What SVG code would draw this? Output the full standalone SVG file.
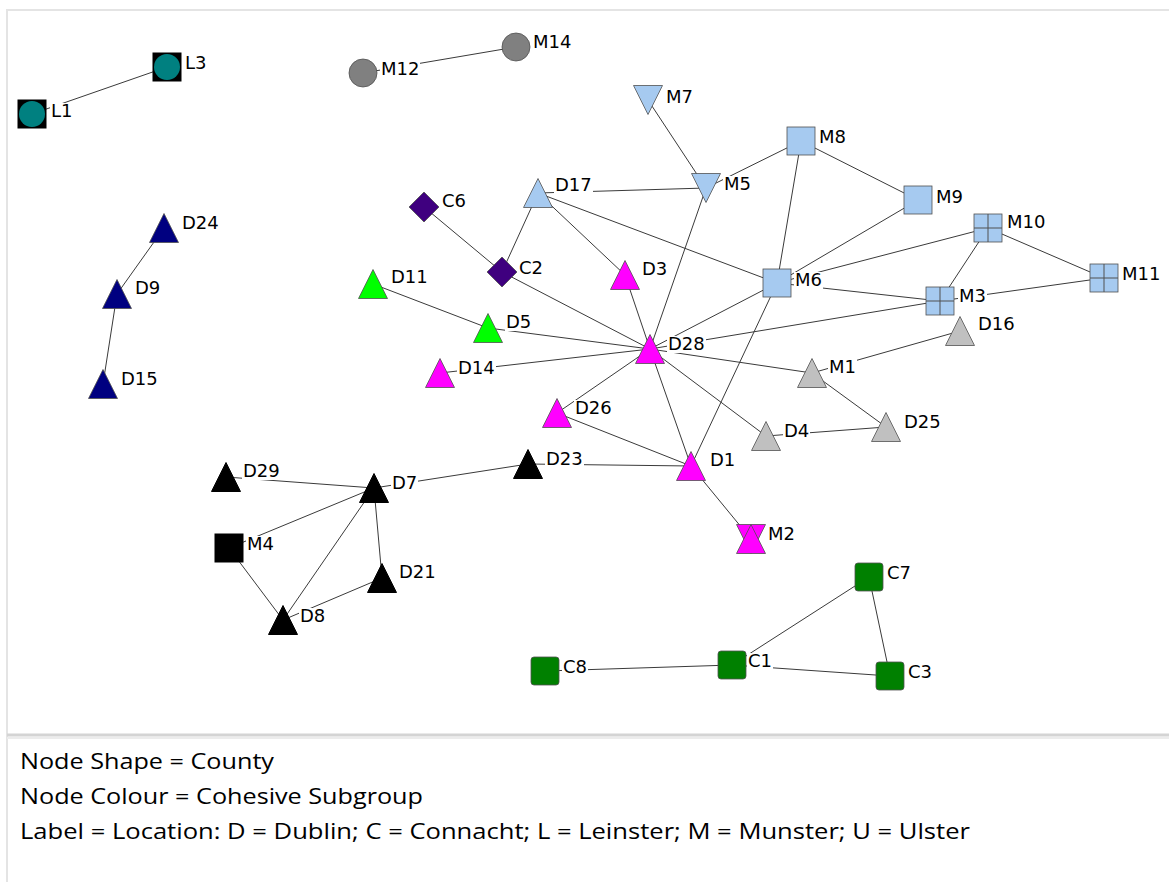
<svg xmlns="http://www.w3.org/2000/svg" xmlns:xlink="http://www.w3.org/1999/xlink" width="1169" height="882" viewBox="0 0 1169 882">
<style>
.e{stroke:#3a3a3a;stroke-width:1;fill:none}
.n{stroke:#505050;stroke-width:0.8}
.k{fill:#000;stroke:#000}
.lb{fill:#a6caf0}.mg{fill:#ff00ff}.gr{fill:#00ff00}.gy{fill:#c0c0c0}.nv{fill:#000080}.pu{fill:#3f007f}.dg{fill:#008000}.tl{fill:#008080}.dgy{fill:#808080}
.bg{fill:#fff}
text.t{font-family:"DejaVu Sans",Verdana,sans-serif;font-size:18px;fill:#000}
text.lg{font-family:"Open Sans","Liberation Sans",sans-serif;font-size:21px;fill:#000}
</style>
<defs>
<path id="tri" d="M0,-14.5L14.5,14.5L-14.5,14.5Z"/>
<path id="itri" d="M-14.5,-14.5L14.5,-14.5L0,14.5Z"/>
<rect id="sq" x="-14" y="-14" width="28" height="28"/>
<rect id="rsq" x="-14" y="-14" width="28" height="28" rx="3"/>
<path id="dia" d="M0,-15L15,0L0,15L-15,0Z"/>
<circle id="cir" r="14"/>
</defs>
<rect width="1169" height="882" fill="#fff"/>
<g id="frame">
<path d="M7,882V10H1169" stroke="#e4e4e4" stroke-width="2" fill="none"/>
<path d="M7,735H1169" stroke="#d4d4d4" stroke-width="3" fill="none"/>
<path d="M7,738H1169" stroke="#ececec" stroke-width="2" fill="none"/>
</g>
<g id="edges" class="e">
<line x1="32" y1="114" x2="167" y2="67"/>
<line x1="363" y1="73" x2="516" y2="47"/>
<line x1="648" y1="100" x2="706" y2="188"/>
<line x1="706" y1="188" x2="801" y2="141"/>
<line x1="706" y1="188" x2="538" y2="193"/>
<line x1="706" y1="188" x2="650" y2="349"/>
<line x1="801" y1="141" x2="777" y2="283"/>
<line x1="801" y1="141" x2="918" y2="200"/>
<line x1="918" y1="200" x2="777" y2="283"/>
<line x1="777" y1="283" x2="988" y2="228"/>
<line x1="777" y1="283" x2="940" y2="301"/>
<line x1="777" y1="283" x2="538" y2="193"/>
<line x1="777" y1="283" x2="650" y2="349"/>
<line x1="777" y1="283" x2="691" y2="466"/>
<line x1="988" y1="228" x2="940" y2="301"/>
<line x1="988" y1="228" x2="1104" y2="278"/>
<line x1="940" y1="301" x2="1104" y2="278"/>
<line x1="940" y1="301" x2="650" y2="349"/>
<line x1="538" y1="193" x2="502" y2="272"/>
<line x1="538" y1="193" x2="625" y2="275"/>
<line x1="424" y1="207" x2="502" y2="272"/>
<line x1="502" y1="272" x2="650" y2="349"/>
<line x1="625" y1="275" x2="650" y2="349"/>
<line x1="373" y1="284" x2="488" y2="328"/>
<line x1="488" y1="328" x2="650" y2="349"/>
<line x1="440" y1="373" x2="650" y2="349"/>
<line x1="557" y1="413" x2="650" y2="349"/>
<line x1="557" y1="413" x2="691" y2="466"/>
<line x1="650" y1="349" x2="691" y2="466"/>
<line x1="650" y1="349" x2="812" y2="373"/>
<line x1="650" y1="349" x2="766" y2="436"/>
<line x1="812" y1="373" x2="960" y2="331"/>
<line x1="812" y1="373" x2="886" y2="427"/>
<line x1="766" y1="436" x2="886" y2="427"/>
<line x1="691" y1="466" x2="751" y2="539"/>
<line x1="691" y1="466" x2="528" y2="464"/>
<line x1="528" y1="464" x2="374" y2="488"/>
<line x1="374" y1="488" x2="226" y2="477"/>
<line x1="374" y1="488" x2="229" y2="548"/>
<line x1="374" y1="488" x2="283" y2="620"/>
<line x1="374" y1="488" x2="382" y2="578"/>
<line x1="382" y1="578" x2="283" y2="620"/>
<line x1="229" y1="548" x2="283" y2="620"/>
<line x1="164" y1="228" x2="117" y2="294"/>
<line x1="117" y1="294" x2="103" y2="384"/>
<line x1="869" y1="577" x2="732" y2="665"/>
<line x1="869" y1="577" x2="890" y2="676"/>
<line x1="732" y1="665" x2="545" y2="671"/>
<line x1="732" y1="665" x2="890" y2="676"/>
</g>
<g id="L1"><use href="#sq" x="32" y="114" class="k"/><circle cx="32" cy="114" r="13" class="tl"/><rect class="bg" x="50" y="103" width="23" height="17"/><text class="t" x="51" y="117">L1</text></g>
<g id="L3"><use href="#sq" x="167" y="67" class="k"/><circle cx="167" cy="67" r="13" class="tl"/><rect class="bg" x="184" y="55" width="24" height="17"/><text class="t" x="185" y="69">L3</text></g>
<g id="M12"><use href="#cir" x="363" y="73" class="n dgy"/><rect class="bg" x="380" y="61" width="40" height="17"/><text class="t" x="381" y="75">M12</text></g>
<g id="M14"><use href="#cir" x="516" y="47" class="n dgy"/><rect class="bg" x="532" y="34" width="40" height="17"/><text class="t" x="533" y="48">M14</text></g>
<g id="M7"><use href="#itri" x="648" y="100" class="n lb"/><rect class="bg" x="665" y="89" width="29" height="17"/><text class="t" x="666" y="103">M7</text></g>
<g id="M5"><use href="#itri" x="706" y="188" class="n lb"/><rect class="bg" x="723" y="176" width="29" height="17"/><text class="t" x="724" y="190">M5</text></g>
<g id="M8"><use href="#sq" x="801" y="141" class="n lb"/><rect class="bg" x="818" y="129" width="29" height="17"/><text class="t" x="819" y="143">M8</text></g>
<g id="M9"><use href="#sq" x="918" y="200" class="n lb"/><rect class="bg" x="935" y="189" width="29" height="17"/><text class="t" x="936" y="203">M9</text></g>
<g id="M10"><use href="#sq" x="988" y="228" class="n lb"/><path d="M988,214V242M974,228H1002" stroke="#505050" stroke-width="1"/><rect class="bg" x="1006" y="214" width="40" height="17"/><text class="t" x="1007" y="228">M10</text></g>
<g id="M11"><use href="#sq" x="1104" y="278" class="n lb"/><path d="M1104,264V292M1090,278H1118" stroke="#505050" stroke-width="1"/><rect class="bg" x="1121" y="266" width="40" height="17"/><text class="t" x="1122" y="280">M11</text></g>
<g id="M3"><use href="#sq" x="940" y="301" class="n lb"/><path d="M940,287V315M926,301H954" stroke="#505050" stroke-width="1"/><rect class="bg" x="958" y="288" width="29" height="17"/><text class="t" x="959" y="302">M3</text></g>
<g id="M6"><use href="#sq" x="777" y="283" class="n lb"/><rect class="bg" x="794" y="272" width="29" height="17"/><text class="t" x="795" y="286">M6</text></g>
<g id="D17"><use href="#tri" x="538" y="193" class="n lb"/><rect class="bg" x="554" y="177" width="39" height="17"/><text class="t" x="555" y="191">D17</text></g>
<g id="C6"><use href="#dia" x="424" y="207" class="n pu"/><rect class="bg" x="441" y="193" width="26" height="17"/><text class="t" x="442" y="207">C6</text></g>
<g id="C2"><use href="#dia" x="502" y="272" class="n pu"/><rect class="bg" x="518" y="260" width="26" height="17"/><text class="t" x="519" y="274">C2</text></g>
<g id="D3"><use href="#tri" x="625" y="275" class="n mg"/><rect class="bg" x="641" y="261" width="27" height="17"/><text class="t" x="642" y="275">D3</text></g>
<g id="D11"><use href="#tri" x="373" y="284" class="n gr"/><rect class="bg" x="390" y="269" width="39" height="17"/><text class="t" x="391" y="283">D11</text></g>
<g id="D5"><use href="#tri" x="488" y="328" class="n gr"/><rect class="bg" x="505" y="314" width="27" height="17"/><text class="t" x="506" y="328">D5</text></g>
<g id="D28"><use href="#tri" x="650" y="349" class="n mg"/><rect class="bg" x="667" y="336" width="39" height="17"/><text class="t" x="668" y="350">D28</text></g>
<g id="D14"><use href="#tri" x="440" y="373" class="n mg"/><rect class="bg" x="457" y="360" width="39" height="17"/><text class="t" x="458" y="374">D14</text></g>
<g id="D26"><use href="#tri" x="557" y="413" class="n mg"/><rect class="bg" x="574" y="400" width="39" height="17"/><text class="t" x="575" y="414">D26</text></g>
<g id="D1"><use href="#tri" x="691" y="466" class="n mg"/><rect class="bg" x="709" y="452" width="27" height="17"/><text class="t" x="710" y="466">D1</text></g>
<g id="M2"><use href="#itri" x="751" y="539" class="n mg"/><use href="#tri" x="751" y="539" class="n mg"/><rect class="bg" x="767" y="526" width="29" height="17"/><text class="t" x="768" y="540">M2</text></g>
<g id="D16"><use href="#tri" x="960" y="331" class="n gy"/><rect class="bg" x="977" y="316" width="39" height="17"/><text class="t" x="978" y="330">D16</text></g>
<g id="M1"><use href="#tri" x="812" y="373" class="n gy"/><rect class="bg" x="828" y="359" width="29" height="17"/><text class="t" x="829" y="373">M1</text></g>
<g id="D25"><use href="#tri" x="886" y="427" class="n gy"/><rect class="bg" x="903" y="414" width="39" height="17"/><text class="t" x="904" y="428">D25</text></g>
<g id="D4"><use href="#tri" x="766" y="436" class="n gy"/><rect class="bg" x="783" y="423" width="27" height="17"/><text class="t" x="784" y="437">D4</text></g>
<g id="D24"><use href="#tri" x="164" y="228" class="n nv"/><rect class="bg" x="181" y="215" width="39" height="17"/><text class="t" x="182" y="229">D24</text></g>
<g id="D9"><use href="#tri" x="117" y="294" class="n nv"/><rect class="bg" x="134" y="280" width="27" height="17"/><text class="t" x="135" y="294">D9</text></g>
<g id="D15"><use href="#tri" x="103" y="384" class="n nv"/><rect class="bg" x="120" y="371" width="39" height="17"/><text class="t" x="121" y="385">D15</text></g>
<g id="D29"><use href="#tri" x="226" y="477" class="k"/><rect class="bg" x="242" y="463" width="39" height="17"/><text class="t" x="243" y="477">D29</text></g>
<g id="D7"><use href="#tri" x="374" y="488" class="k"/><rect class="bg" x="391" y="475" width="27" height="17"/><text class="t" x="392" y="489">D7</text></g>
<g id="M4"><use href="#sq" x="229" y="548" class="k"/><rect class="bg" x="246" y="536" width="29" height="17"/><text class="t" x="247" y="550">M4</text></g>
<g id="D21"><use href="#tri" x="382" y="578" class="k"/><rect class="bg" x="398" y="564" width="39" height="17"/><text class="t" x="399" y="578">D21</text></g>
<g id="D8"><use href="#tri" x="283" y="620" class="k"/><rect class="bg" x="299" y="608" width="27" height="17"/><text class="t" x="300" y="622">D8</text></g>
<g id="D23"><use href="#tri" x="528" y="464" class="k"/><rect class="bg" x="545" y="451" width="39" height="17"/><text class="t" x="546" y="465">D23</text></g>
<g id="C7"><use href="#rsq" x="869" y="577" class="n dg"/><rect class="bg" x="886" y="565" width="26" height="17"/><text class="t" x="887" y="579">C7</text></g>
<g id="C1"><use href="#rsq" x="732" y="665" class="n dg"/><rect class="bg" x="747" y="653" width="26" height="17"/><text class="t" x="748" y="667">C1</text></g>
<g id="C3"><use href="#rsq" x="890" y="676" class="n dg"/><rect class="bg" x="907" y="664" width="26" height="17"/><text class="t" x="908" y="678">C3</text></g>
<g id="C8"><use href="#rsq" x="545" y="671" class="n dg"/><rect class="bg" x="562" y="659" width="26" height="17"/><text class="t" x="563" y="673">C8</text></g>
<g id="legend">
<text class="lg" x="20" y="769" textLength="254" lengthAdjust="spacingAndGlyphs">Node Shape = County</text>
<text class="lg" x="20" y="804" textLength="403" lengthAdjust="spacingAndGlyphs">Node Colour = Cohesive Subgroup</text>
<text class="lg" x="20" y="839" textLength="950" lengthAdjust="spacingAndGlyphs">Label = Location: D = Dublin; C = Connacht; L = Leinster; M = Munster; U = Ulster</text>
</g>
</svg>
